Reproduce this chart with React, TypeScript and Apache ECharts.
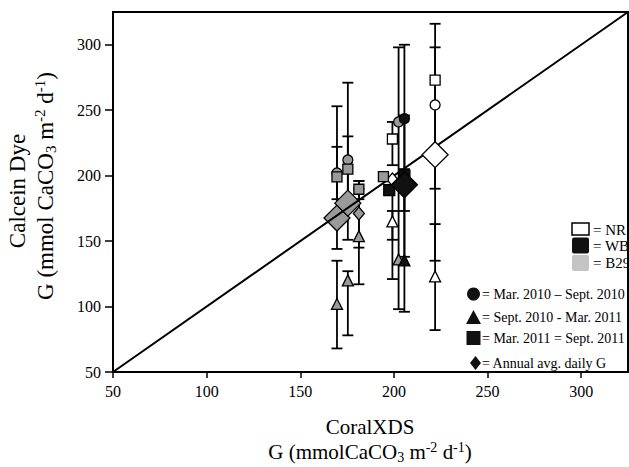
import React, { useEffect, useRef } from "react";
import * as echarts from "echarts";

// ---- axis ----
const AXIS_MIN = 50;
const AXIS_MAX = 325;
const AXIS_STEP = 50;

// ---- 1:1 line ----
const ONE_TO_ONE: [number, number][] = [
  [50, 50],
  [325, 325],
];

// ---- markers: [CoralXDS G, Calcein G] ----
const NR_CIRCLE: [number, number][] = [[222, 254]];
const NR_TRIANGLE: [number, number][] = [[222, 123], [199.2, 165]];
const NR_SQUARE: [number, number][] = [[222, 273], [199.2, 228]];
const NR_AVG: [number, number][] = [[222, 216]];
const NR_AVG_SMALL: [number, number][] = [[199.2, 197]];

const WB_CIRCLE: [number, number][] = [[205.6, 243.5]];
const WB_TRIANGLE: [number, number][] = [[205.6, 135.3]];
const WB_SQUARE: [number, number][] = [[197.5, 189], [205.6, 200]];
const WB_AVG: [number, number][] = [[205.6, 193]];

const B29_CIRCLE: [number, number][] = [[169.6, 202], [175.4, 212], [202.5, 241]];
const B29_TRIANGLE: [number, number][] = [[169.6, 102], [175.4, 120], [181.3, 153.8], [202.5, 136]];
const B29_SQUARE: [number, number][] = [[169.6, 199], [175.4, 205], [181.3, 189.6], [194.4, 199.2]];
const B29_AVG: [number, number][] = [[169.6, 167.6], [175.4, 179]];
const B29_AVG_SMALL: [number, number][] = [[181.3, 171]];

// ---- error bars: [x, low, high] ----
const ERROR_BARS: [number, number, number][] = [
  [222, 190, 316],
  [222, 135, 298],
  [222, 82, 163],
  [169.6, 144, 253],
  [169.6, 182, 222],
  [169.6, 68, 135],
  [175.4, 151, 271],
  [175.4, 180, 230],
  [175.4, 78, 127],
  [181.3, 182, 196],
  [181.3, 145, 196],
  [181.3, 117, 190],
  [199.2, 208, 241],
  [199.2, 121, 193],
  [199.2, 151, 173],
  [202.5, 98, 298],
  [205.6, 96, 300],
  [205.6, 138, 246],
  [205.6, 173, 205],
];

const SERIF = "Liberation Serif";
const WHITE = "#ffffff";
const BLACK = "#111111";
const GRAY = "#9a9a9a";
const LEGEND_GRAY = "#c4c4c4";

function scatter(name: string, data: [number, number][], symbol: string, size: number | number[], color: string, z: number) {
  return {
    name,
    type: "scatter",
    data,
    symbol,
    symbolSize: size,
    z,
    itemStyle: { color, borderColor: "#000", borderWidth: 1.3, opacity: 1 },
  };
}

function txt(x: number, y: number, text: string, size: number, extra: any = {}) {
  return {
    type: "text",
    x,
    y,
    z: 10,
    style: { text, fontFamily: SERIF, fontSize: size, fill: "#000", verticalAlign: "middle", ...extra },
  };
}

export default function App() {
  const ref = useRef<HTMLDivElement>(null);
  useEffect(() => {
    if (!ref.current) return;
    const chart = echarts.init(ref.current, null, { renderer: "svg" });
    const axisCommon = {
      type: "value",
      min: AXIS_MIN,
      max: AXIS_MAX,
      interval: AXIS_STEP,
      splitLine: { show: false },
      axisLine: { show: true, lineStyle: { color: "#000", width: 2 } },
      axisLabel: {
        color: "#000",
        fontFamily: SERIF,
        fontSize: 16,
        showMaxLabel: false,
      },
    };
    const option: any = {
      animation: false,
      backgroundColor: "#fff",
      textStyle: { fontFamily: SERIF },
      grid: {
        left: 113,
        right: 1,
        top: 12,
        bottom: 95,
        show: true,
        borderColor: "#000",
        borderWidth: 2,
        containLabel: false,
      },
      xAxis: {
        ...axisCommon,
        axisTick: { length: 6, lineStyle: { color: "#000", width: 1.5 } },
        axisLabel: { ...axisCommon.axisLabel, margin: 11 },
      },
      yAxis: {
        ...axisCommon,
        axisTick: { length: 8, lineStyle: { color: "#000", width: 1.5 } },
        axisLabel: { ...axisCommon.axisLabel, margin: 12 },
      },
      series: [
        {
          name: "errors",
          type: "custom",
          data: ERROR_BARS,
          encode: { x: 0, y: [1, 2] },
          z: 1,
          renderItem: (params: any, api: any) => {
            const x = api.value(0);
            const lo = api.coord([x, api.value(1)]);
            const hi = api.coord([x, api.value(2)]);
            const w = 5.5;
            const style = { stroke: "#000", lineWidth: 1.8, fill: "none" };
            return {
              type: "group",
              children: [
                { type: "line", shape: { x1: lo[0], y1: lo[1], x2: hi[0], y2: hi[1] }, style },
                { type: "line", shape: { x1: lo[0] - w, y1: lo[1], x2: lo[0] + w, y2: lo[1] }, style },
                { type: "line", shape: { x1: hi[0] - w, y1: hi[1], x2: hi[0] + w, y2: hi[1] }, style },
              ],
            };
          },
        },
        scatter("B29 avg", B29_AVG, "diamond", [26, 26], GRAY, 2),
        {
          name: "1:1",
          type: "line",
          data: ONE_TO_ONE,
          symbol: "none",
          z: 3,
          lineStyle: { color: "#000", width: 2 },
        },
        scatter("B29 avg small", B29_AVG_SMALL, "diamond", [11, 13], GRAY, 4),
        scatter("B29 circle", B29_CIRCLE, "circle", 10, GRAY, 4),
        scatter("B29 triangle", B29_TRIANGLE, "triangle", 11, GRAY, 4),
        scatter("B29 square", B29_SQUARE, "rect", 10, GRAY, 5),
        scatter("NR avg small", NR_AVG_SMALL, "diamond", [11, 13], WHITE, 4),
        scatter("NR circle", NR_CIRCLE, "circle", 10, WHITE, 4),
        scatter("NR triangle", NR_TRIANGLE, "triangle", 11, WHITE, 4),
        scatter("NR square", NR_SQUARE, "rect", 10, WHITE, 5),
        scatter("NR avg", NR_AVG, "diamond", [26, 26], WHITE, 6),
        scatter("WB circle", WB_CIRCLE, "circle", 10, BLACK, 4),
        scatter("WB triangle", WB_TRIANGLE, "triangle", 11, BLACK, 4),
        scatter("WB square", WB_SQUARE, "rect", 11, BLACK, 5),
        scatter("WB avg", WB_AVG, "diamond", [26, 26], BLACK, 6),
      ],
      graphic: [
        // x-axis title
        txt(370, 427, "CoralXDS", 21, { align: "center" }),
        txt(370, 452, "G (mmolCaCO{sub|3} m{sup|-2} d{sup|-1})", 21, {
          align: "center",
          rich: {
            sub: { fontSize: 14, fontFamily: SERIF, padding: [11, 0, 0, 0] },
            sup: { fontSize: 14, fontFamily: SERIF, padding: [0, 0, 9, 0] },
          },
        }),
        // y-axis title
        { ...txt(17, 191, "Calcein Dye", 23, { align: "center" }), rotation: Math.PI / 2 },
        {
          ...txt(45, 186, "G (mmol CaCO{sub|3} m{sup|-2} d{sup|-1})", 23, {
            align: "center",
            rich: {
              sub: { fontSize: 15, fontFamily: SERIF, padding: [12, 0, 0, 0] },
              sup: { fontSize: 15, fontFamily: SERIF, padding: [0, 0, 10, 0] },
            },
          }),
          rotation: Math.PI / 2,
        },
        // site legend
        { type: "rect", shape: { x: 572, y: 223, width: 17, height: 12 }, style: { fill: WHITE, stroke: "#000", lineWidth: 1.5 }, z: 10 },
        { type: "rect", shape: { x: 572, y: 237.5, width: 17, height: 16, r: 2 }, style: { fill: BLACK }, z: 10 },
        { type: "rect", shape: { x: 572, y: 255, width: 17, height: 16, r: 2 }, style: { fill: LEGEND_GRAY }, z: 10 },
        txt(593, 230, "= NR", 15),
        txt(593, 246, "= WB", 15),
        txt(593, 263, "= B29", 15),
        // period legend
        { type: "circle", shape: { cx: 473.5, cy: 294, r: 6.5 }, style: { fill: BLACK }, z: 10 },
        { type: "polygon", shape: { points: [[466, 324], [481, 324], [473.5, 310]] }, style: { fill: BLACK }, z: 10 },
        { type: "rect", shape: { x: 466.5, y: 331, width: 14, height: 14 }, style: { fill: BLACK }, z: 10 },
        { type: "polygon", shape: { points: [[475.5, 356], [481, 363], [475.5, 370], [470, 363]] }, style: { fill: BLACK }, z: 10 },
        txt(482, 294, "= Mar. 2010 – Sept. 2010", 14),
        txt(482, 317, "= Sept. 2010 - Mar. 2011", 14),
        txt(482, 338, "= Mar. 2011 = Sept. 2011", 14),
        txt(482, 363, "= Annual avg. daily G", 14),
      ],
    };
    chart.setOption(option);
    return () => chart.dispose();
  }, []);
  return <div ref={ref} style={{ position: "fixed", left: 0, top: 0, width: 629, height: 467, background: "#fff" }} />;
}
